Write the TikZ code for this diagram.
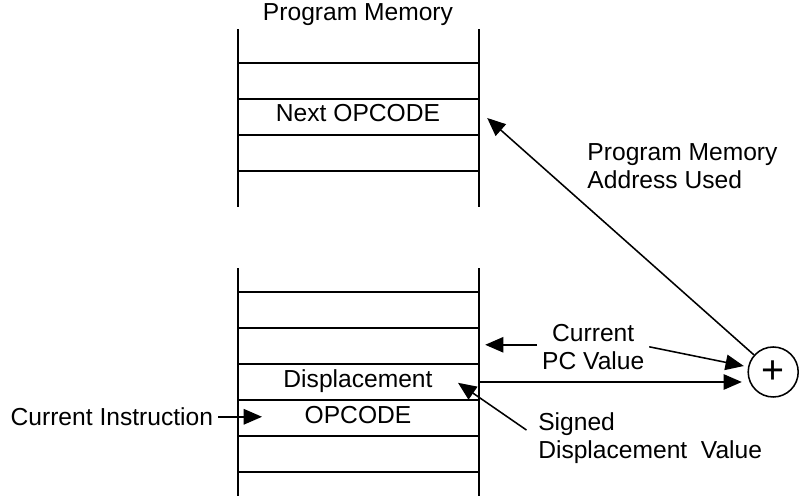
\documentclass[tikz,border=0pt]{standalone}
\usepackage{fontspec}
\setmainfont{Liberation Sans}
\usetikzlibrary{arrows.meta, positioning, calc}

\begin{document}
\begin{tikzpicture}[font=\fontsize{17.5}{20}\selectfont,
        memline/.style={line width=1.4pt, black},
        arr/.style={-{Triangle[length=13pt, width=11pt]}, line width=1.1pt},
        cell/.style={inner sep=0pt, text height=1.38ex, text depth=0pt},
        note/.style={align=left, inner sep=0pt, anchor=west},
        adder/.style={circle, draw, line width=1.1pt, minimum size=1.25cm, inner sep=0pt,
                      font=\fontsize{28}{30}\selectfont}
    ]
    \useasboundingbox (0,0) rectangle (20,12.45);
    % upper part of the program memory
    \node[cell] (title) at (8.95,12.075) {Program Memory};
    \draw[memline] (5.95,7.28) -- (5.95,11.73);
    \draw[memline] (11.98,7.28) -- (11.98,11.73);
    \foreach \y in {10.88,9.98,9.08,8.18}
        \draw[memline] (5.95,\y) -- (11.98,\y);
    \node[cell] (next) at (8.95,9.53) {Next OPCODE};
    % lower part
    \draw[memline] (5.95,0.05) -- (5.95,5.75);
    \draw[memline] (11.98,0.05) -- (11.98,5.75);
    \foreach \y in {5.15,4.25,3.35,2.45,1.55,0.65}
        \draw[memline] (5.95,\y) -- (11.98,\y);
    \node[cell] (disp) at (8.95,2.9) {Displacement};
    \node[cell] (opc) at (8.95,2.0) {OPCODE};
    % adder and labels
    \node[adder] (plus) at (19.33,3.15) {+};
    \node[note] (addr) at (14.68,8.3) {Program Memory\\Address Used};
    \node[align=center] (pc) at (14.83,3.78) {Current\\PC Value};
    \node[note] (sdv) at (13.45,1.5) {Signed\\Displacement\ \ Value};
    \node[anchor=east] (ci) at (5.45,2.03) {Current Instruction};
    \coordinate (nexttip) at (12.18,9.5);
    \coordinate (pctip) at (12.13,3.83);
    \coordinate (dispout) at (11.98,2.9);
    \coordinate (disptip) at (11.45,2.88);
    \coordinate (citip) at (6.55,2.03);
    % connectors
    \draw[arr] (plus) -- (nexttip);
    \draw[arr] (pc.west |- pctip) -- (pctip);
    \draw[arr, shorten >=3pt] (pc.east) -- (plus);
    \draw[arr, shorten >=4pt] (dispout) -- (dispout -| plus.west);
    \draw[arr, shorten <=0.35cm] (sdv.west) -- (disptip);
    \draw[arr] (ci) -- (citip);
\end{tikzpicture}
\end{document}
